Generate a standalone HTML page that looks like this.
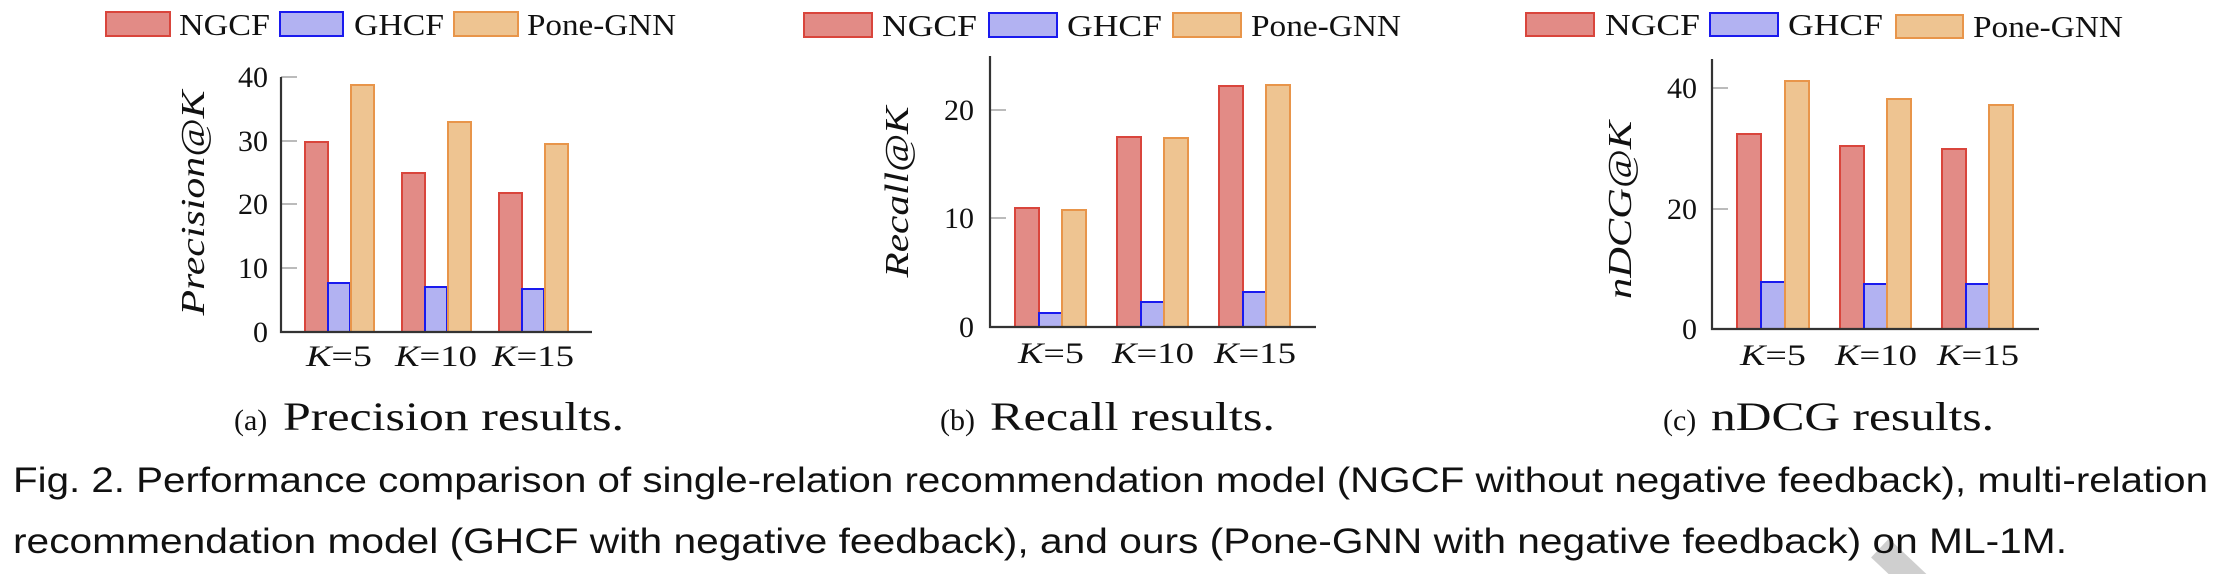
<!DOCTYPE html>
<html><head><meta charset="utf-8"><style>
html,body{margin:0;padding:0;background:#fff;}
svg{display:block;}
.s{font-family:"Liberation Serif",serif;fill:#111;}
.t{font-family:"Liberation Serif",serif;font-size:30px;fill:#111;}
.x{font-family:"Liberation Serif",serif;font-size:30px;fill:#111;}
.c{font-family:"Liberation Sans",sans-serif;font-size:35px;fill:#111;}
.n{fill:#e28b86;stroke:#d9453c;stroke-width:2;}
.g{fill:#b2b2f2;stroke:#1a1aee;stroke-width:2;}
.p{fill:#eec491;stroke:#e8954a;stroke-width:2;}
.ax{stroke:#333;stroke-width:2.2;fill:none;}
.tk{stroke:#bbb;stroke-width:2;}
</style></head><body>
<svg width="2218" height="574" viewBox="0 0 2218 574" xmlns="http://www.w3.org/2000/svg">
<line x1="1880" y1="548" x2="1935" y2="600" stroke="#cfcfcf" stroke-width="26"/>

<g class="s" font-size="31">
<rect class="n" x="106" y="12" width="64" height="24"/><text x="179" y="35" textLength="91" lengthAdjust="spacingAndGlyphs">NGCF</text>
<rect class="g" x="280" y="12" width="63" height="24"/><text x="354" y="35" textLength="90" lengthAdjust="spacingAndGlyphs">GHCF</text>
<rect class="p" x="454" y="12" width="64" height="24"/><text x="527" y="35" textLength="149" lengthAdjust="spacingAndGlyphs">Pone-GNN</text>

<rect class="n" x="804" y="13" width="68" height="24"/><text x="882" y="36" textLength="95" lengthAdjust="spacingAndGlyphs">NGCF</text>
<rect class="g" x="989" y="13" width="68" height="24"/><text x="1067" y="36" textLength="95" lengthAdjust="spacingAndGlyphs">GHCF</text>
<rect class="p" x="1173" y="13" width="68" height="24"/><text x="1251" y="36" textLength="150" lengthAdjust="spacingAndGlyphs">Pone-GNN</text>

<rect class="n" x="1526" y="13" width="68" height="23"/><text x="1605" y="35" textLength="95" lengthAdjust="spacingAndGlyphs">NGCF</text>
<rect class="g" x="1710" y="13" width="68" height="23"/><text x="1788" y="35" textLength="95" lengthAdjust="spacingAndGlyphs">GHCF</text>
<rect class="p" x="1896" y="15" width="67" height="23"/><text x="1973" y="37" textLength="150" lengthAdjust="spacingAndGlyphs">Pone-GNN</text>
</g>

<!-- Chart a -->
<g>
<line class="tk" x1="281" y1="332" x2="297" y2="332"/>
<line class="tk" x1="281" y1="268" x2="297" y2="268"/>
<line class="tk" x1="281" y1="204" x2="297" y2="204"/>
<line class="tk" x1="281" y1="141" x2="297" y2="141"/>
<line class="tk" x1="281" y1="77" x2="297" y2="77"/>
<rect class="n" x="305" y="142" width="23" height="190"/>
<rect class="g" x="328" y="283" width="22" height="49"/>
<rect class="p" x="351" y="85" width="23" height="247"/>
<rect class="n" x="402" y="173" width="23" height="159"/>
<rect class="g" x="425" y="287" width="22" height="45"/>
<rect class="p" x="448" y="122" width="23" height="210"/>
<rect class="n" x="499" y="193" width="23" height="139"/>
<rect class="g" x="522" y="289" width="22" height="43"/>
<rect class="p" x="545" y="144" width="23" height="188"/>
<polyline class="ax" points="281,77 281,332 592,332"/>
<g class="t" text-anchor="end">
<text x="268" y="342">0</text><text x="268" y="278">10</text><text x="268" y="214">20</text><text x="268" y="151">30</text><text x="268" y="87">40</text>
</g>
<g class="x" text-anchor="middle" font-style="italic">
<text x="339" y="366" textLength="66" lengthAdjust="spacingAndGlyphs">K<tspan font-style="normal">=5</tspan></text>
<text x="436" y="366" textLength="82" lengthAdjust="spacingAndGlyphs">K<tspan font-style="normal">=10</tspan></text>
<text x="533" y="366" textLength="82" lengthAdjust="spacingAndGlyphs">K<tspan font-style="normal">=15</tspan></text>
</g>
<text class="s" font-size="34" font-style="italic" text-anchor="middle" transform="translate(204,203) rotate(-90)" textLength="225" lengthAdjust="spacingAndGlyphs">Precision@K</text>
</g>

<!-- Chart b -->
<g>
<line class="tk" x1="990" y1="327" x2="1006" y2="327"/>
<line class="tk" x1="990" y1="218" x2="1006" y2="218"/>
<line class="tk" x1="990" y1="110" x2="1006" y2="110"/>
<rect class="n" x="1015" y="208" width="24" height="119"/>
<rect class="g" x="1039" y="313" width="23" height="14"/>
<rect class="p" x="1062" y="210" width="24" height="117"/>
<rect class="n" x="1117" y="137" width="24" height="190"/>
<rect class="g" x="1141" y="302" width="23" height="25"/>
<rect class="p" x="1164" y="138" width="24" height="189"/>
<rect class="n" x="1219" y="86" width="24" height="241"/>
<rect class="g" x="1243" y="292" width="23" height="35"/>
<rect class="p" x="1266" y="85" width="24" height="242"/>
<polyline class="ax" points="990,56 990,327 1316,327"/>
<g class="t" text-anchor="end">
<text x="974" y="337">0</text><text x="974" y="228">10</text><text x="974" y="120">20</text>
</g>
<g class="x" text-anchor="middle" font-style="italic">
<text x="1051" y="363" textLength="66" lengthAdjust="spacingAndGlyphs">K<tspan font-style="normal">=5</tspan></text>
<text x="1153" y="363" textLength="82" lengthAdjust="spacingAndGlyphs">K<tspan font-style="normal">=10</tspan></text>
<text x="1255" y="363" textLength="82" lengthAdjust="spacingAndGlyphs">K<tspan font-style="normal">=15</tspan></text>
</g>
<text class="s" font-size="34" font-style="italic" text-anchor="middle" transform="translate(908,192) rotate(-90)" textLength="171" lengthAdjust="spacingAndGlyphs">Recall@K</text>
</g>

<!-- Chart c -->
<g>
<line class="tk" x1="1712" y1="329" x2="1728" y2="329"/>
<line class="tk" x1="1712" y1="209" x2="1728" y2="209"/>
<line class="tk" x1="1712" y1="88" x2="1728" y2="88"/>
<rect class="n" x="1737" y="134" width="24" height="195"/>
<rect class="g" x="1761" y="282" width="24" height="47"/>
<rect class="p" x="1785" y="81" width="24" height="248"/>
<rect class="n" x="1840" y="146" width="24" height="183"/>
<rect class="g" x="1864" y="284" width="23" height="45"/>
<rect class="p" x="1887" y="99" width="24" height="230"/>
<rect class="n" x="1942" y="149" width="24" height="180"/>
<rect class="g" x="1966" y="284" width="23" height="45"/>
<rect class="p" x="1989" y="105" width="24" height="224"/>
<polyline class="ax" points="1712,59 1712,329 2039,329"/>
<g class="t" text-anchor="end">
<text x="1697" y="339">0</text><text x="1697" y="219">20</text><text x="1697" y="98">40</text>
</g>
<g class="x" text-anchor="middle" font-style="italic">
<text x="1773" y="365" textLength="66" lengthAdjust="spacingAndGlyphs">K<tspan font-style="normal">=5</tspan></text>
<text x="1876" y="365" textLength="82" lengthAdjust="spacingAndGlyphs">K<tspan font-style="normal">=10</tspan></text>
<text x="1978" y="365" textLength="82" lengthAdjust="spacingAndGlyphs">K<tspan font-style="normal">=15</tspan></text>
</g>
<text class="s" font-size="34" font-style="italic" text-anchor="middle" transform="translate(1631,210) rotate(-90)" textLength="178" lengthAdjust="spacingAndGlyphs">nDCG@K</text>
</g>

<g class="s">
<text x="234" y="430" font-size="30">(a)</text><text x="283" y="430" font-size="40" textLength="341" lengthAdjust="spacingAndGlyphs">Precision results.</text>
<text x="940" y="430" font-size="30">(b)</text><text x="990" y="430" font-size="40" textLength="285" lengthAdjust="spacingAndGlyphs">Recall results.</text>
<text x="1663" y="430" font-size="30">(c)</text><text x="1711" y="430" font-size="40" textLength="283" lengthAdjust="spacingAndGlyphs">nDCG results.</text>
</g>

<text class="c" x="13" y="492" textLength="2195" lengthAdjust="spacingAndGlyphs">Fig. 2.  Performance comparison of single-relation recommendation model (NGCF without negative feedback), multi-relation</text>
<text class="c" x="13" y="553" textLength="2054" lengthAdjust="spacingAndGlyphs">recommendation model (GHCF with negative feedback), and ours (Pone-GNN with negative feedback) on ML-1M.</text>
</svg>
</body></html>
